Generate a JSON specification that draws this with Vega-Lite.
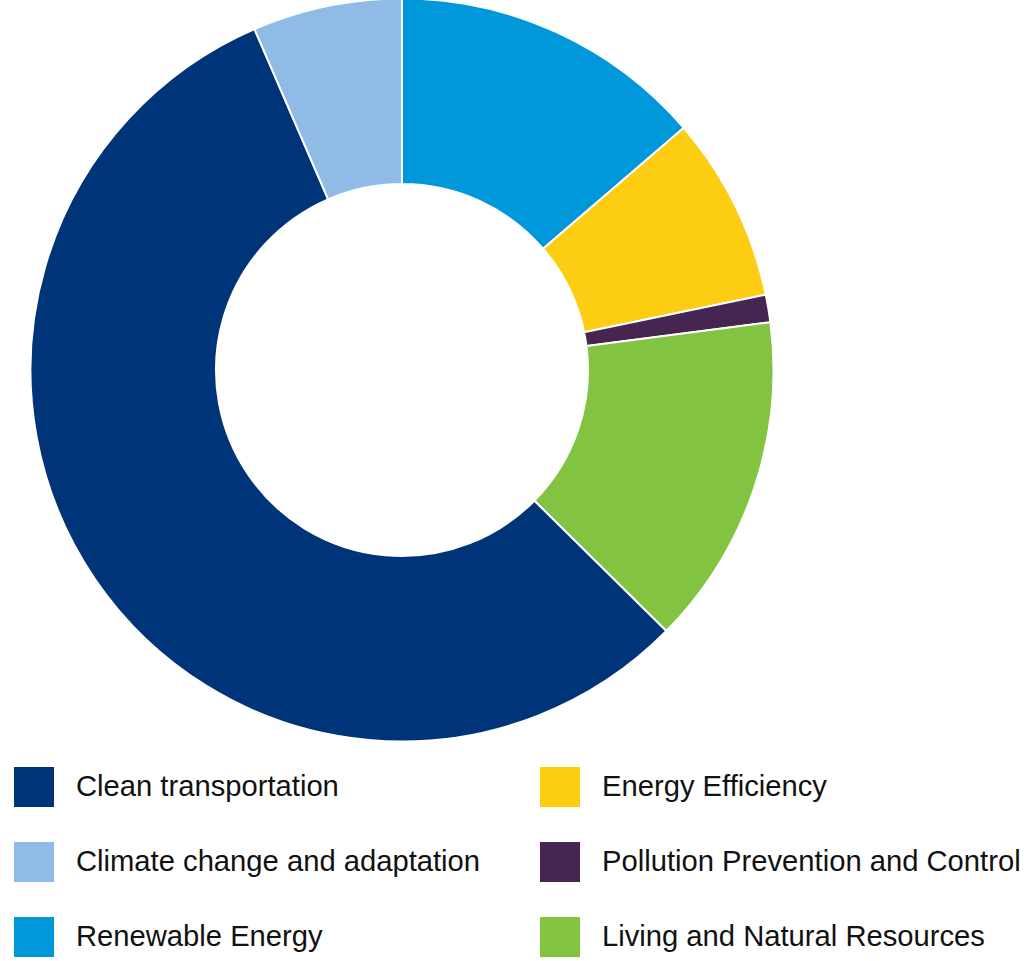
{
 "$schema":"https://vega.github.io/schema/vega-lite/v6.json",
 "autosize":{"type":"none"},
 "padding":{"left":0,"top":0,"right":220,"bottom":221},
 "width":804,"height":740,
 "background":"white",
 "data":{"values":[
  {"category":"Renewable Energy","share":13.7,"order":1},
  {"category":"Energy Efficiency","share":8.05,"order":2},
  {"category":"Pollution Prevention and Control","share":1.2,"order":3},
  {"category":"Living and Natural Resources","share":14.45,"order":4},
  {"category":"Clean transportation","share":56.1,"order":5},
  {"category":"Climate change and adaptation","share":6.5,"order":6}
 ]},
 "mark":{"type":"arc","innerRadius":186,"outerRadius":371.5,"stroke":"white","strokeWidth":2},
 "encoding":{
  "theta":{"field":"share","type":"quantitative","stack":true},
  "order":{"field":"order","type":"quantitative"},
  "color":{"field":"category","type":"nominal",
   "scale":{
    "domain":["Clean transportation","Climate change and adaptation","Renewable Energy","Energy Efficiency","Pollution Prevention and Control","Living and Natural Resources"],
    "range":["#003478","#8FBBE6","#0098DB","#FDCD13","#472551","#82C341"]},
   "legend":{"title":null,"orient":"none","legendX":14,"legendY":767,"columns":2,"direction":"vertical","symbolType":"square","symbolSize":1600,"symbolStrokeWidth":0,"labelFont":"Liberation Sans","labelFontSize":29.2,"labelColor":"#111111","labelOffset":22,"labelLimit":460,"rowPadding":35,"columnPadding":59,"clipHeight":40}
  }
 }
}
